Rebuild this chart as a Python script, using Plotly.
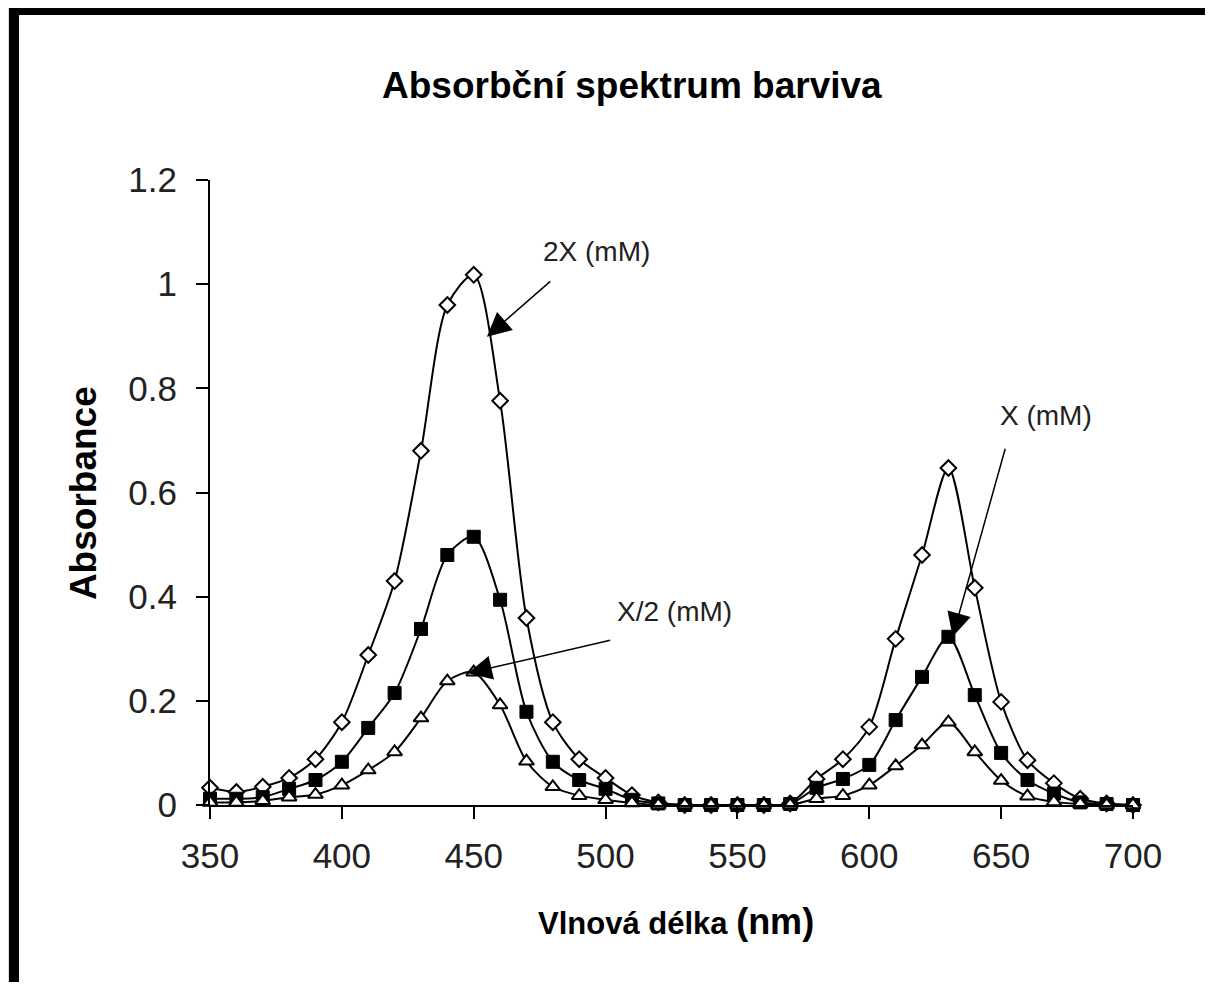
import plotly.graph_objects as go

wavelength = [350, 360, 370, 380, 390, 400, 410, 420, 430, 440, 450, 460, 470, 480, 490, 500,
              510, 520, 530, 540, 550, 560, 570, 580, 590, 600, 610, 620, 630, 640, 650, 660,
              670, 680, 690, 700]

abs_2x = [0.033, 0.025, 0.035, 0.052, 0.088, 0.159, 0.288, 0.43, 0.68, 0.96, 1.018, 0.776, 0.359, 0.159, 0.088, 0.052,
          0.019, 0.005, 0.0, 0.0, 0.0, 0.0, 0.003, 0.05, 0.088, 0.15, 0.319, 0.48, 0.647, 0.417, 0.198, 0.086,
          0.042, 0.012, 0.003, 0.0]

abs_x = [0.012, 0.012, 0.015, 0.031, 0.048, 0.083, 0.148, 0.215, 0.338, 0.48, 0.515, 0.394, 0.179, 0.083, 0.048, 0.031,
         0.01, 0.003, 0.0, 0.0, 0.0, 0.0, 0.002, 0.033, 0.05, 0.077, 0.163, 0.246, 0.323, 0.211, 0.1, 0.048,
         0.022, 0.005, 0.002, 0.0]

abs_x2 = [0.005, 0.005, 0.008, 0.015, 0.02, 0.038, 0.067, 0.102, 0.167, 0.238, 0.255, 0.192, 0.084, 0.035, 0.018, 0.01,
          0.004, 0.0, 0.0, 0.0, 0.0, 0.0, 0.0, 0.012, 0.018, 0.038, 0.075, 0.115, 0.159, 0.102, 0.047, 0.017,
          0.006, 0.002, 0.0, 0.0]

x_ticks = [350, 400, 450, 500, 550, 600, 650, 700]
y_ticks = [0, 0.2, 0.4, 0.6, 0.8, 1, 1.2]
y_tick_labels = ["0", "0.2", "0.4", "0.6", "0.8", "1", "1.2"]

title_text = "Absorbční spektrum barviva"
x_title = "Vlnová délka <span style='font-size:36px'>(nm)</span>"
y_title = "Absorbance"

labels = ["2X (mM)", "X (mM)", "X/2 (mM)"]
label_pos = [(496.7, 1.062), (666.9, 0.747), (526.3, 0.371)]
arrow_tail = [(479.6, 1.008), (651.7, 0.687), (502.3, 0.317)]
arrow_tip = [(455.0, 0.899), (631.6, 0.323), (447.8, 0.253)]

FONT = "Liberation Sans, Arial, sans-serif"

fig = go.Figure()

fig.add_trace(go.Scatter(
    x=wavelength, y=abs_2x, mode="lines+markers", name="2X",
    line=dict(color="black", width=2, shape="spline", smoothing=0.8),
    marker=dict(symbol="diamond", size=12, color="white", line=dict(color="black", width=2)),
    cliponaxis=False, showlegend=False))
fig.add_trace(go.Scatter(
    x=wavelength, y=abs_x, mode="lines+markers", name="X",
    line=dict(color="black", width=2, shape="spline", smoothing=0.8),
    marker=dict(symbol="square", size=13, color="black", line=dict(color="black", width=1)),
    cliponaxis=False, showlegend=False))
fig.add_trace(go.Scatter(
    x=wavelength, y=abs_x2, mode="lines+markers", name="X/2",
    line=dict(color="black", width=2, shape="spline", smoothing=0.8),
    marker=dict(symbol="triangle-up", size=13, color="white", line=dict(color="black", width=2)),
    cliponaxis=False, showlegend=False))

annotations = []
for (tx, ty), (hx, hy) in zip(arrow_tail, arrow_tip):
    annotations.append(dict(
        x=hx, y=hy, ax=tx, ay=ty, xref="x", yref="y", axref="x", ayref="y",
        text="", showarrow=True, arrowhead=2, arrowsize=3.2, arrowwidth=1.5,
        arrowcolor="black"))
for txt, (lx, ly) in zip(labels, label_pos):
    annotations.append(dict(
        x=lx, y=ly, xref="x", yref="y", text=txt, showarrow=False,
        xanchor="center", yanchor="middle",
        font=dict(family=FONT, size=28, color="#222")))

annotations.append(dict(
    x=0.457, y=1.152, xref="paper", yref="paper", text="<b>" + title_text + "</b>",
    showarrow=False, xanchor="center", yanchor="middle",
    font=dict(family=FONT, size=37, color="black")))
annotations.append(dict(
    x=-0.1376, y=0.499, xref="paper", yref="paper", text="<b>" + y_title + "</b>",
    showarrow=False, xanchor="center", yanchor="middle", textangle=-90,
    font=dict(family=FONT, size=37, color="black")))
annotations.append(dict(
    x=0.505, y=-0.187, xref="paper", yref="paper", text="<b>" + x_title + "</b>",
    showarrow=False, xanchor="center", yanchor="middle",
    font=dict(family=FONT, size=31, color="black")))

shapes = [
    dict(type="rect", xref="paper", yref="paper", x0=-0.2178, x1=1.2, y0=-0.40, y1=1.30,
         fillcolor="black", line=dict(width=0), layer="below"),
    dict(type="rect", xref="paper", yref="paper", x0=-0.2069, x1=1.2, y0=-0.40, y1=1.264,
         fillcolor="white", line=dict(width=0), layer="below"),
]

fig.update_layout(
    width=1205, height=974,
    margin=dict(l=202, r=80, t=172, b=177),
    paper_bgcolor="#e6e6e6", plot_bgcolor="white",
    annotations=annotations, shapes=shapes,
    font=dict(family=FONT, color="#222"),
    xaxis=dict(range=[350, 700], tickvals=x_ticks, ticktext=[str(v) for v in x_ticks],
               showline=True, linecolor="black", linewidth=2, ticks="outside", ticklen=12,
               tickwidth=2, tickcolor="black", showgrid=False, zeroline=False,
               ticklabelstandoff=7,
               tickfont=dict(family=FONT, size=35, color="#222")),
    yaxis=dict(range=[0, 1.2], tickvals=y_ticks, ticktext=y_tick_labels,
               showline=True, linecolor="black", linewidth=2, ticks="outside", ticklen=12,
               tickwidth=2, tickcolor="black", showgrid=False, zeroline=False,
               ticklabelstandoff=12,
               tickfont=dict(family=FONT, size=35, color="#222")),
)

fig.write_html("out.html")
